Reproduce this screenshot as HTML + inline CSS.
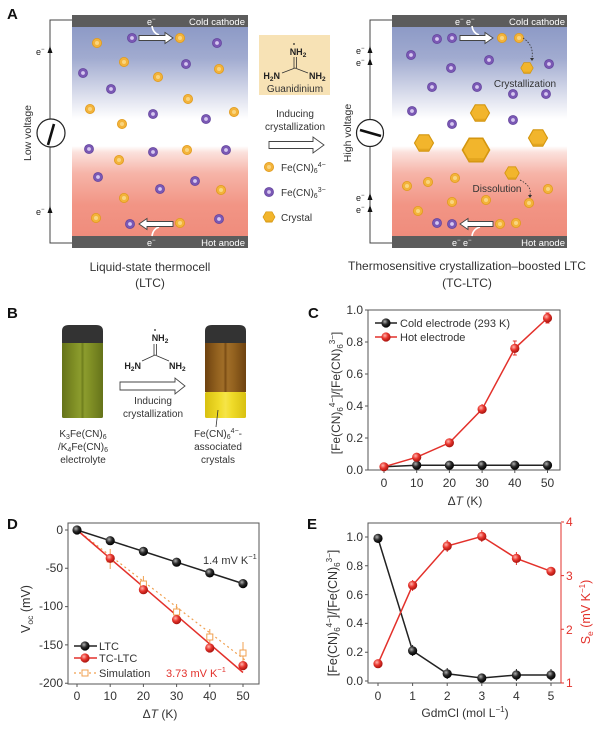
<!DOCTYPE html>
<html><head><meta charset="utf-8"><style>
html,body{margin:0;padding:0;background:#fff;}
svg{display:block;font-family:"Liberation Sans",Arial,sans-serif;}
</style></head><body>
<svg width="600" height="729" viewBox="0 0 600 729" xmlns="http://www.w3.org/2000/svg">
<defs>
<linearGradient id="cell" x1="0" y1="27" x2="0" y2="236" gradientUnits="userSpaceOnUse">
<stop offset="0" stop-color="#8d9ac6"/><stop offset="0.15" stop-color="#a1abd0"/><stop offset="0.36" stop-color="#e6e8f2"/><stop offset="0.44" stop-color="#ffffff"/><stop offset="0.57" stop-color="#ffffff"/><stop offset="0.6" stop-color="#fbe1dc"/><stop offset="0.7" stop-color="#f6b4a8"/><stop offset="0.85" stop-color="#f29585"/><stop offset="1" stop-color="#ef8c7c"/>
</linearGradient>
<radialGradient id="rb" cx="0.38" cy="0.35" r="0.65"><stop offset="0" stop-color="#ffb4ac"/><stop offset="0.5" stop-color="#e8352d"/><stop offset="1" stop-color="#a8140f"/></radialGradient>
<radialGradient id="kb" cx="0.38" cy="0.35" r="0.65"><stop offset="0" stop-color="#b0b0b0"/><stop offset="0.5" stop-color="#2a2a2a"/><stop offset="1" stop-color="#000"/></radialGradient>
<linearGradient id="gv" x1="0" x2="1" y1="0" y2="0"><stop offset="0" stop-color="#65731a"/><stop offset="0.3" stop-color="#808f25"/><stop offset="0.45" stop-color="#8c9c2e"/><stop offset="0.5" stop-color="#6f7e1c"/><stop offset="0.55" stop-color="#8c9c2e"/><stop offset="0.7" stop-color="#808f25"/><stop offset="1" stop-color="#65731a"/></linearGradient>
<linearGradient id="bv" x1="0" x2="1" y1="0" y2="0"><stop offset="0" stop-color="#6e4210"/><stop offset="0.3" stop-color="#93621f"/><stop offset="0.45" stop-color="#a06e28"/><stop offset="0.5" stop-color="#7a4c14"/><stop offset="0.55" stop-color="#a06e28"/><stop offset="0.7" stop-color="#93621f"/><stop offset="1" stop-color="#6e4210"/></linearGradient>
<linearGradient id="yv" x1="0" x2="1" y1="0" y2="0"><stop offset="0" stop-color="#d8c010"/><stop offset="0.35" stop-color="#f0dc2a"/><stop offset="0.5" stop-color="#f6e448"/><stop offset="0.65" stop-color="#f0dc2a"/><stop offset="1" stop-color="#d8c010"/></linearGradient>
<g id="po"><circle r="4.6" fill="#f3b33a" stroke="#e09a1c" stroke-width="0.8"/><circle r="2" fill="#f9d580"/></g>
<g id="pp"><circle r="4.6" fill="#7a58b4" stroke="#5e3f98" stroke-width="0.6"/><circle r="1.9" fill="#d6c8f0"/></g>
<g id="hx"><polygon points="10,0 5,8.66 -5,8.66 -10,0 -5,-8.66 5,-8.66" fill="#f2b52c" stroke="#d4960f" stroke-width="1.2"/><polygon points="10,0 5,8.66 -5,8.66 -10,0 -6,6 6,6" fill="#d99b18" opacity="0.6"/></g>
<circle id="R" r="4.6" fill="url(#rb)"/>
<circle id="K" r="4.6" fill="url(#kb)"/>
</defs>

<!-- Panel labels -->
<g font-weight="bold" font-size="15" fill="#111">
<text x="7" y="19">A</text><text x="7" y="318">B</text><text x="308" y="318">C</text><text x="7" y="529">D</text><text x="307" y="529">E</text>
</g>

<!-- ===== Panel A left ===== -->
<path d="M72,20 H50 V243 H72" fill="none" stroke="#444" stroke-width="1"/>
<polygon points="50,46 47.5,53 52.5,53" fill="#111"/>
<polygon points="50,206 47.5,213 52.5,213" fill="#111"/>
<text x="36" y="55" font-size="9" fill="#222">e<tspan dy="-4" font-size="6">−</tspan></text>
<text x="36" y="215" font-size="9" fill="#222">e<tspan dy="-4" font-size="6">−</tspan></text>
<circle cx="51" cy="133" r="14" fill="#fff" stroke="#222" stroke-width="1.2"/>
<line x1="48" y1="145" x2="54" y2="124" stroke="#111" stroke-width="2.6"/>
<text transform="translate(31,133) rotate(-90)" text-anchor="middle" font-size="10.5" fill="#333">Low voltage</text>
<rect x="72" y="27" width="176" height="209" fill="url(#cell)"/>
<rect x="72" y="15" width="176" height="12" fill="#5c5c5c"/>
<rect x="72" y="236" width="176" height="12" fill="#5c5c5c"/>
<text x="245" y="25" text-anchor="end" font-size="9.5" fill="#fff">Cold cathode</text>
<text x="245" y="246" text-anchor="end" font-size="9.5" fill="#fff">Hot anode</text>
<text x="147" y="25" font-size="9" fill="#fff">e<tspan dy="-4" font-size="6">−</tspan></text>
<text x="147" y="246" font-size="9" fill="#fff">e<tspan dy="-4" font-size="6">−</tspan></text>
<path d="M152,26 Q153,33 159,35" fill="none" stroke="#fff" stroke-width="1.6"/>
<path d="M159,227 Q153,229 152,236" fill="none" stroke="#fff" stroke-width="1.6"/>
<path d="M139,35.5 H165 V32.5 L173,38 L165,43.5 V40.5 H139 Z" fill="#fff" stroke="#444" stroke-width="0.9"/>
<path d="M173,221.5 H147 V218.5 L139,224 L147,229.5 V226.5 H173 Z" fill="#fff" stroke="#444" stroke-width="0.9"/>
<g>
<use href="#po" x="97" y="43"/><use href="#po" x="180" y="38"/><use href="#po" x="124" y="62"/><use href="#po" x="219" y="69"/><use href="#po" x="158" y="77"/><use href="#po" x="188" y="99"/><use href="#po" x="90" y="109"/><use href="#po" x="234" y="112"/><use href="#po" x="122" y="124"/><use href="#po" x="187" y="150"/><use href="#po" x="119" y="160"/><use href="#po" x="221" y="190"/><use href="#po" x="124" y="198"/><use href="#po" x="96" y="218"/><use href="#po" x="180" y="223"/>
<use href="#pp" x="132" y="38"/><use href="#pp" x="217" y="43"/><use href="#pp" x="186" y="64"/><use href="#pp" x="83" y="73"/><use href="#pp" x="111" y="89"/><use href="#pp" x="153" y="114"/><use href="#pp" x="206" y="119"/><use href="#pp" x="89" y="149"/><use href="#pp" x="153" y="152"/><use href="#pp" x="226" y="150"/><use href="#pp" x="98" y="177"/><use href="#pp" x="195" y="181"/><use href="#pp" x="160" y="189"/><use href="#pp" x="130" y="224"/><use href="#pp" x="219" y="219"/>
</g>
<text x="150" y="271" text-anchor="middle" font-size="12" fill="#333">Liquid-state thermocell</text>
<text x="150" y="287" text-anchor="middle" font-size="12" fill="#333">(LTC)</text>

<!-- ===== Panel A center ===== -->
<rect x="259" y="35" width="71" height="60" fill="#f7e2b5"/>
<g font-size="9" font-weight="bold" fill="#222">
<text x="298" y="55" text-anchor="middle">NH<tspan font-size="6.5" dy="2">2</tspan></text>
<text x="280" y="79" text-anchor="end">H<tspan font-size="6.5" dy="2">2</tspan><tspan dy="-2">N</tspan></text>
<text x="309" y="79">NH<tspan font-size="6.5" dy="2">2</tspan></text>
</g>
<circle cx="294" cy="44" r="0.9" fill="#222"/>
<line x1="294" y1="57" x2="294" y2="68" stroke="#333" stroke-width="0.8"/>
<line x1="296.5" y1="57" x2="296.5" y2="68" stroke="#333" stroke-width="0.8"/>
<line x1="295" y1="68" x2="282" y2="73" stroke="#333" stroke-width="0.8"/>
<line x1="295" y1="68" x2="308" y2="73" stroke="#333" stroke-width="0.8"/>
<text x="295" y="92" text-anchor="middle" font-size="10" fill="#333">Guanidinium</text>
<text x="295" y="117" text-anchor="middle" font-size="10" fill="#333">Inducing</text>
<text x="295" y="130" text-anchor="middle" font-size="10" fill="#333">crystallization</text>
<path d="M269,141.5 H313 V137 L324,145 L313,153 V148.5 H269 Z" fill="#fff" stroke="#444" stroke-width="0.9"/>
<use href="#po" x="269" y="167"/>
<use href="#pp" x="269" y="192"/>
<use href="#hx" transform="translate(269,217) scale(0.6)"/>
<g font-size="10" fill="#333">
<text x="281" y="171">Fe(CN)<tspan font-size="7" dy="2">6</tspan><tspan font-size="7" dy="-6">4−</tspan></text>
<text x="281" y="196">Fe(CN)<tspan font-size="7" dy="2">6</tspan><tspan font-size="7" dy="-6">3−</tspan></text>
<text x="281" y="221">Crystal</text>
</g>

<!-- ===== Panel A right ===== -->
<path d="M392,20 H370 V243 H392" fill="none" stroke="#444" stroke-width="1"/>
<polygon points="370,46 367.5,53 372.5,53" fill="#111"/>
<polygon points="370,58 367.5,65 372.5,65" fill="#111"/>
<polygon points="370,193 367.5,200 372.5,200" fill="#111"/>
<polygon points="370,205 367.5,212 372.5,212" fill="#111"/>
<g font-size="9" fill="#222">
<text x="356" y="54">e<tspan dy="-4" font-size="6">−</tspan></text>
<text x="356" y="66">e<tspan dy="-4" font-size="6">−</tspan></text>
<text x="356" y="201">e<tspan dy="-4" font-size="6">−</tspan></text>
<text x="356" y="213">e<tspan dy="-4" font-size="6">−</tspan></text>
</g>
<circle cx="370" cy="133" r="13.5" fill="#fff" stroke="#222" stroke-width="1.2"/>
<line x1="360" y1="130" x2="381" y2="136" stroke="#111" stroke-width="2.6"/>
<text transform="translate(351,133) rotate(-90)" text-anchor="middle" font-size="10.5" fill="#333">High voltage</text>
<rect x="392" y="27" width="175" height="209" fill="url(#cell)"/>
<rect x="392" y="15" width="175" height="12" fill="#5c5c5c"/>
<rect x="392" y="236" width="175" height="12" fill="#5c5c5c"/>
<text x="565" y="25" text-anchor="end" font-size="9.5" fill="#fff">Cold cathode</text>
<text x="565" y="246" text-anchor="end" font-size="9.5" fill="#fff">Hot anode</text>
<text x="455" y="25" font-size="9" fill="#fff">e<tspan dy="-4" font-size="6">−</tspan><tspan dy="4"> e</tspan><tspan dy="-4" font-size="6">−</tspan></text>
<text x="452" y="246" font-size="9" fill="#fff">e<tspan dy="-4" font-size="6">−</tspan><tspan dy="4"> e</tspan><tspan dy="-4" font-size="6">−</tspan></text>
<path d="M472,26 Q473,33 479,35" fill="none" stroke="#fff" stroke-width="1.6"/>
<path d="M480,227 Q473,229 472,236" fill="none" stroke="#fff" stroke-width="1.6"/>
<path d="M460,35.5 H485 V32.5 L493,38 L485,43.5 V40.5 H460 Z" fill="#fff" stroke="#444" stroke-width="0.9"/>
<path d="M493,221.5 H468 V218.5 L460,224 L468,229.5 V226.5 H493 Z" fill="#fff" stroke="#444" stroke-width="0.9"/>
<g>
<use href="#pp" x="437" y="39"/><use href="#pp" x="452" y="38"/><use href="#po" x="502" y="38"/><use href="#po" x="519" y="38"/>
<use href="#pp" x="411" y="55"/><use href="#pp" x="489" y="60"/><use href="#pp" x="549" y="64"/><use href="#pp" x="451" y="68"/><use href="#pp" x="432" y="87"/><use href="#pp" x="477" y="87"/><use href="#pp" x="513" y="94"/><use href="#pp" x="546" y="94"/><use href="#pp" x="412" y="111"/><use href="#pp" x="452" y="124"/><use href="#pp" x="513" y="120"/>
<use href="#hx" transform="translate(527,68) scale(0.62)"/>
<use href="#hx" transform="translate(480,113) scale(0.95)"/>
<use href="#hx" transform="translate(424,143) scale(0.95)"/>
<use href="#hx" transform="translate(476,150) scale(1.35)"/>
<use href="#hx" transform="translate(538,138) scale(0.95)"/>
<use href="#hx" transform="translate(512,173) scale(0.72)"/>
<use href="#po" x="407" y="186"/><use href="#po" x="428" y="182"/><use href="#po" x="455" y="178"/><use href="#po" x="452" y="202"/><use href="#po" x="486" y="200"/><use href="#po" x="418" y="211"/><use href="#po" x="529" y="203"/><use href="#po" x="548" y="189"/>
<use href="#pp" x="437" y="223"/><use href="#pp" x="452" y="224"/><use href="#po" x="500" y="224"/><use href="#po" x="516" y="223"/>
</g>
<path d="M523,38 Q534,45 532,58" fill="none" stroke="#333" stroke-width="0.8" stroke-dasharray="1.5,1.5"/>
<polygon points="530,58 534,58 532,61" fill="#333"/>
<text x="525" y="87" text-anchor="middle" font-size="10" fill="#333">Crystallization</text>
<path d="M520,180 Q532,186 530,195" fill="none" stroke="#333" stroke-width="0.8" stroke-dasharray="1.5,1.5"/>
<polygon points="528,195 532,195 530,198" fill="#333"/>
<text x="497" y="192" text-anchor="middle" font-size="10" fill="#333">Dissolution</text>
<text x="467" y="270" text-anchor="middle" font-size="12" fill="#333">Thermosensitive crystallization–boosted LTC</text>
<text x="467" y="287" text-anchor="middle" font-size="12" fill="#333">(TC-LTC)</text>

<!-- ===== Panel B ===== -->
<rect x="62" y="342" width="41" height="76" rx="1.5" fill="url(#gv)"/>
<path d="M62,343 V331 Q62,325 69,325 H96 Q103,325 103,331 V343 Z" fill="#333"/>
<rect x="205" y="342" width="41" height="50" fill="url(#bv)"/>
<rect x="205" y="392" width="41" height="26" rx="1.5" fill="url(#yv)"/>
<path d="M205,343 V331 Q205,325 212,325 H239 Q246,325 246,331 V343 Z" fill="#333"/>
<line x1="218" y1="410" x2="216" y2="427" stroke="#333" stroke-width="0.8"/>
<g font-size="9" font-weight="bold" fill="#222">
<text x="160" y="341" text-anchor="middle">NH<tspan font-size="6.5" dy="2">2</tspan></text>
<text x="141" y="369" text-anchor="end">H<tspan font-size="6.5" dy="2">2</tspan><tspan dy="-2">N</tspan></text>
<text x="169" y="369">NH<tspan font-size="6.5" dy="2">2</tspan></text>
</g>
<circle cx="155" cy="330" r="0.9" fill="#222"/>
<line x1="154" y1="344" x2="154" y2="355" stroke="#333" stroke-width="0.8"/>
<line x1="156.5" y1="344" x2="156.5" y2="355" stroke="#333" stroke-width="0.8"/>
<line x1="155" y1="355" x2="142" y2="361" stroke="#333" stroke-width="0.8"/>
<line x1="155" y1="355" x2="169" y2="361" stroke="#333" stroke-width="0.8"/>
<path d="M120,382 H175 V378 L185,386 L175,394 V390 H120 Z" fill="#fff" stroke="#444" stroke-width="0.9"/>
<g font-size="10" fill="#333" text-anchor="middle">
<text x="153" y="404">Inducing</text>
<text x="153" y="417">crystallization</text>
<text x="83" y="437">K<tspan font-size="7" dy="2">3</tspan><tspan dy="-2">Fe(CN)</tspan><tspan font-size="7" dy="2">6</tspan></text>
<text x="83" y="450">/K<tspan font-size="7" dy="2">4</tspan><tspan dy="-2">Fe(CN)</tspan><tspan font-size="7" dy="2">6</tspan></text>
<text x="83" y="463">electrolyte</text>
<text x="218" y="437">Fe(CN)<tspan font-size="7" dy="2">6</tspan><tspan font-size="7" dy="-6">4−</tspan><tspan dy="4">-</tspan></text>
<text x="218" y="450">associated</text>
<text x="218" y="463">crystals</text>
</g>

<!-- ===== Panel C ===== -->
<g stroke="#555" stroke-width="1" fill="none">
<rect x="368" y="310" width="192" height="160"/>
<path d="M368,470 h-3 M368,438 h-3 M368,406 h-3 M368,374 h-3 M368,342 h-3 M368,310 h-3"/>
<path d="M384,470 v3 M416.7,470 v3 M449.4,470 v3 M482.1,470 v3 M514.8,470 v3 M547.5,470 v3"/>
</g>
<g font-size="12" fill="#333" text-anchor="end">
<text x="363" y="474">0.0</text><text x="363" y="442">0.2</text><text x="363" y="410">0.4</text><text x="363" y="378">0.6</text><text x="363" y="346">0.8</text><text x="363" y="314">1.0</text>
</g>
<g font-size="12" fill="#333" text-anchor="middle">
<text x="384" y="487">0</text><text x="416.7" y="487">10</text><text x="449.4" y="487">20</text><text x="482.1" y="487">30</text><text x="514.8" y="487">40</text><text x="547.5" y="487">50</text>
<text x="465" y="505">Δ<tspan font-style="italic">T</tspan> (K)</text>
</g>
<text transform="translate(340,393) rotate(-90)" text-anchor="middle" font-size="12" fill="#333">[Fe(CN)<tspan font-size="8" dy="3">6</tspan><tspan font-size="8" dy="-8">4−</tspan><tspan dy="5">]/[Fe(CN)</tspan><tspan font-size="8" dy="3">6</tspan><tspan font-size="8" dy="-8">3−</tspan><tspan dy="5">]</tspan></text>
<polyline points="384,466.8 416.7,465.2 449.4,465.2 482.1,465.2 514.8,465.2 547.5,465.2" fill="none" stroke="#222" stroke-width="1.5"/>
<polyline points="384,466.8 416.7,457.2 449.4,442.8 482.1,409.2 514.8,348.4 547.5,318" fill="none" stroke="#e3312b" stroke-width="1.5"/>
<g stroke="#e3312b" stroke-width="1">
<path d="M482.1,404 v10 M514.8,341 v14 M547.5,313 v10 M512.8,341 h4 M512.8,355 h4 M545.5,313 h4 M545.5,323 h4"/>
</g>
<use href="#K" x="416.7" y="465.2"/><use href="#K" x="449.4" y="465.2"/><use href="#K" x="482.1" y="465.2"/><use href="#K" x="514.8" y="465.2"/><use href="#K" x="547.5" y="465.2"/>
<use href="#R" x="384" y="466.8"/><use href="#R" x="416.7" y="457.2"/><use href="#R" x="449.4" y="442.8"/><use href="#R" x="482.1" y="409.2"/><use href="#R" x="514.8" y="348.4"/><use href="#R" x="547.5" y="318"/>
<line x1="375" y1="323" x2="397" y2="323" stroke="#222" stroke-width="1.5"/><use href="#K" x="386" y="323"/>
<line x1="375" y1="337" x2="397" y2="337" stroke="#e3312b" stroke-width="1.5"/><use href="#R" x="386" y="337"/>
<g font-size="11" fill="#333"><text x="400" y="327">Cold electrode (293 K)</text><text x="400" y="341">Hot electrode</text></g>

<!-- ===== Panel D ===== -->
<g stroke="#555" stroke-width="1" fill="none">
<rect x="68" y="523" width="191" height="161"/>
<path d="M68,530 h-3 M68,568.3 h-3 M68,606.6 h-3 M68,644.9 h-3 M68,683.2 h-3"/>
<path d="M77,684 v3 M110.2,684 v3 M143.4,684 v3 M176.6,684 v3 M209.8,684 v3 M243,684 v3"/>
</g>
<g font-size="12" fill="#333" text-anchor="end">
<text x="63" y="534">0</text><text x="63" y="572">-50</text><text x="63" y="610">-100</text><text x="63" y="649">-150</text><text x="63" y="687">-200</text>
</g>
<g font-size="12" fill="#333" text-anchor="middle">
<text x="77" y="700">0</text><text x="110.2" y="700">10</text><text x="143.4" y="700">20</text><text x="176.6" y="700">30</text><text x="209.8" y="700">40</text><text x="243" y="700">50</text>
<text x="160" y="718">Δ<tspan font-style="italic">T</tspan> (K)</text>
</g>
<text transform="translate(30,609) rotate(-90)" text-anchor="middle" font-size="12.5" fill="#333">V<tspan font-size="8.5" dy="3">oc</tspan><tspan dy="-3"> (mV)</tspan></text>
<line x1="77" y1="530" x2="245" y2="660" stroke="#f0a050" stroke-width="1.2" stroke-dasharray="2,3"/>
<line x1="77" y1="530" x2="243" y2="672.5" stroke="#e3312b" stroke-width="1.5"/>
<polyline points="77,530 110.2,540.7 143.4,551.4 176.6,562.2 209.8,572.9 243,583.6" fill="none" stroke="#222" stroke-width="1.5"/>
<g stroke="#f0a050" stroke-width="1" fill="none">
<path d="M110.2,549 v20 M143.4,576 v16 M176.6,604 v16 M209.8,629 v16 M243,642 v22"/>
<rect x="107.2" y="556" width="6" height="6" fill="#fff"/><rect x="140.4" y="581" width="6" height="6" fill="#fff"/><rect x="173.6" y="609" width="6" height="6" fill="#fff"/><rect x="206.8" y="634" width="6" height="6" fill="#fff"/><rect x="240" y="650" width="6" height="6" fill="#fff"/>
</g>
<use href="#K" x="77" y="530"/><use href="#K" x="110.2" y="540.7"/><use href="#K" x="143.4" y="551.4"/><use href="#K" x="176.6" y="562.2"/><use href="#K" x="209.8" y="572.9"/><use href="#K" x="243" y="583.6"/>
<use href="#R" x="110.2" y="558.3"/><use href="#R" x="143.4" y="589.7"/><use href="#R" x="176.6" y="619.6"/><use href="#R" x="209.8" y="648"/><use href="#R" x="243" y="665.6"/>
<text x="203" y="564" font-size="11" fill="#333">1.4 mV K<tspan font-size="7.5" dy="-5">−1</tspan></text>
<text x="166" y="677" font-size="11" fill="#e3312b">3.73 mV K<tspan font-size="7.5" dy="-5">−1</tspan></text>
<line x1="74" y1="646" x2="97" y2="646" stroke="#222" stroke-width="1.5"/><use href="#K" x="85" y="646"/>
<line x1="74" y1="658" x2="97" y2="658" stroke="#e3312b" stroke-width="1.5"/><use href="#R" x="85" y="658"/>
<line x1="74" y1="673" x2="97" y2="673" stroke="#f0a050" stroke-width="1.2" stroke-dasharray="2,3"/><rect x="82" y="670" width="6" height="6" fill="#fff" stroke="#f0a050" stroke-width="1"/>
<g font-size="11" fill="#333"><text x="99" y="650">LTC</text><text x="99" y="662">TC-LTC</text><text x="99" y="677">Simulation</text></g>

<!-- ===== Panel E ===== -->
<g stroke="#555" stroke-width="1" fill="none">
<path d="M561,523 H368 V683 H561"/>
<path d="M368,681 h-3 M368,652.2 h-3 M368,623.4 h-3 M368,594.6 h-3 M368,565.8 h-3 M368,537 h-3"/>
<path d="M378,683 v3 M412.6,683 v3 M447.2,683 v3 M481.8,683 v3 M516.4,683 v3 M551,683 v3"/>
</g>
<g stroke="#e3312b" stroke-width="1" fill="none">
<path d="M561,523 V683"/>
<path d="M561,683 h3 M561,629.3 h3 M561,575.6 h3 M561,522 h3"/>
</g>
<g font-size="12" fill="#333" text-anchor="end">
<text x="363" y="685">0.0</text><text x="363" y="656">0.2</text><text x="363" y="627">0.4</text><text x="363" y="599">0.6</text><text x="363" y="570">0.8</text><text x="363" y="541">1.0</text>
</g>
<g font-size="12" fill="#e3312b">
<text x="566" y="687">1</text><text x="566" y="634">2</text><text x="566" y="580">3</text><text x="566" y="526">4</text>
</g>
<g font-size="12" fill="#333" text-anchor="middle">
<text x="378" y="700">0</text><text x="412.6" y="700">1</text><text x="447.2" y="700">2</text><text x="481.8" y="700">3</text><text x="516.4" y="700">4</text><text x="551" y="700">5</text>
<text x="465" y="717">GdmCl (mol L<tspan font-size="8" dy="-5">−1</tspan><tspan dy="5">)</tspan></text>
</g>
<text transform="translate(337,613) rotate(-90)" text-anchor="middle" font-size="12.5" fill="#333">[Fe(CN)<tspan font-size="8" dy="3">6</tspan><tspan font-size="8" dy="-8">4−</tspan><tspan dy="5">]/[Fe(CN)</tspan><tspan font-size="8" dy="3">6</tspan><tspan font-size="8" dy="-8">3−</tspan><tspan dy="5">]</tspan></text>
<text transform="translate(590,612) rotate(-90)" text-anchor="middle" font-size="12.5" fill="#e3312b">S<tspan font-size="8.5" dy="3">e</tspan><tspan dy="-3"> (mV K</tspan><tspan font-size="8" dy="-5">−1</tspan><tspan dy="5">)</tspan></text>
<polyline points="378,538.4 412.6,650.8 447.2,673.8 481.8,678 516.4,675 551,675" fill="none" stroke="#222" stroke-width="1.5"/>
<polyline points="378,663.7 412.6,585.3 447.2,546 481.8,536.4 516.4,558.4 551,571.3" fill="none" stroke="#e3312b" stroke-width="1.5"/>
<g stroke="#e3312b" stroke-width="1"><path d="M412.6,580 v11 M447.2,540 v12 M481.8,530 v12 M516.4,552 v13"/></g>
<g stroke="#222" stroke-width="1"><path d="M412.6,645 v11 M447.2,668 v11 M516.4,669 v12 M551,669 v12"/></g>
<use href="#K" x="378" y="538.4"/><use href="#K" x="412.6" y="650.8"/><use href="#K" x="447.2" y="673.8"/><use href="#K" x="481.8" y="678"/><use href="#K" x="516.4" y="675"/><use href="#K" x="551" y="675"/>
<use href="#R" x="378" y="663.7"/><use href="#R" x="412.6" y="585.3"/><use href="#R" x="447.2" y="546"/><use href="#R" x="481.8" y="536.4"/><use href="#R" x="516.4" y="558.4"/><use href="#R" x="551" y="571.3"/>
</svg>
</body></html>
